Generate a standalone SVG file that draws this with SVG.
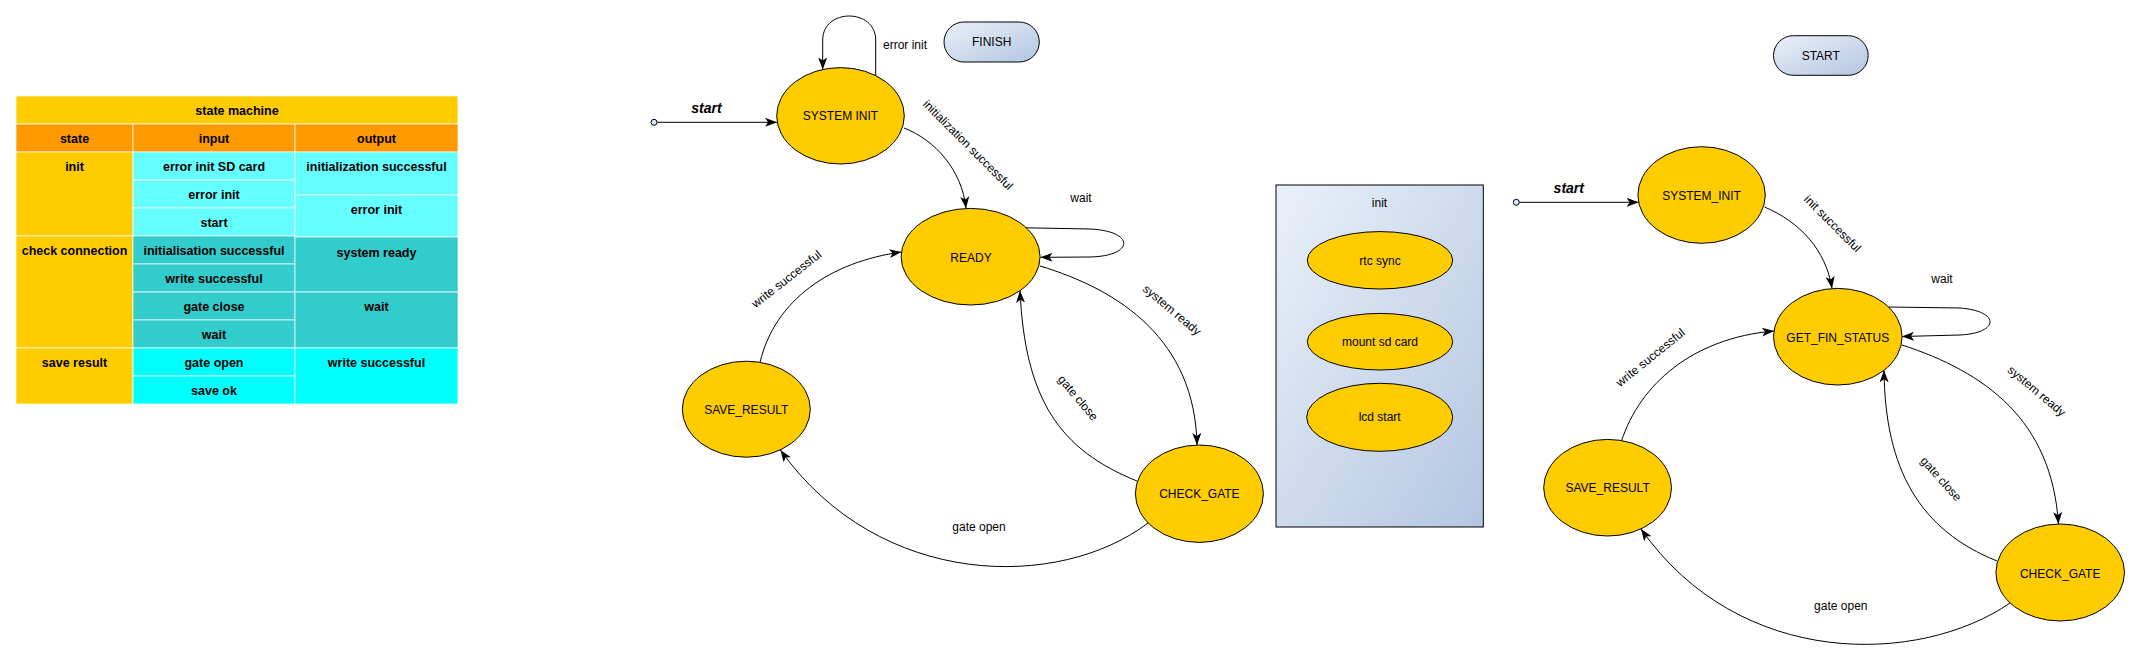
<svg xmlns="http://www.w3.org/2000/svg" width="2140" height="663" viewBox="0 0 2140 663">
<defs>
<linearGradient id="blueGrad" x1="0" y1="0" x2="1" y2="1">
<stop offset="0" stop-color="#eaf0f8"/>
<stop offset="1" stop-color="#b3c6e2"/>
</linearGradient>
<marker id="arr" markerUnits="userSpaceOnUse" markerWidth="13" markerHeight="10" refX="12" refY="4.5" orient="auto">
<path d="M0,0 L12,4.5 L0,9 L3,4.5 z" fill="#000"/>
</marker>
<style>
.st{fill:#FFCC00;stroke:#000;stroke-width:1}
.lbl{font-family:"Liberation Sans",Arial,sans-serif;font-size:12px;fill:#000;text-anchor:middle}
.lblc{font-family:"Liberation Sans",Arial,sans-serif;font-size:12px;fill:#000;text-anchor:middle;dominant-baseline:central}
.startlbl{font-family:"Liberation Sans",Arial,sans-serif;font-size:14px;font-weight:bold;font-style:italic;fill:#000;text-anchor:middle}
.edge{fill:none;stroke:#000;stroke-width:1;marker-end:url(#arr)}
.dot{fill:#dae8fc;stroke:#000;stroke-width:1}
.pill{fill:url(#blueGrad);stroke:#000;stroke-width:1}
.cell{stroke:#ffffff;stroke-opacity:0.7;stroke-width:1}
.tt{font-family:"Liberation Sans",Arial,sans-serif;font-size:12.5px;font-weight:bold;fill:#000;text-anchor:middle}
</style>
</defs>
<rect width="2140" height="663" fill="#ffffff"/>

<!-- Table -->
<g id="table">
<rect class="cell" x="16" y="96" width="442" height="28" fill="#FFCC00"/>
<text class="tt" x="237" y="115">state machine</text>
<rect class="cell" x="16" y="124" width="117" height="28" fill="#FF9900"/>
<rect class="cell" x="133" y="124" width="162" height="28" fill="#FF9900"/>
<rect class="cell" x="295" y="124" width="163" height="28" fill="#FF9900"/>
<text class="tt" x="74.5" y="143">state</text>
<text class="tt" x="214" y="143">input</text>
<text class="tt" x="376.5" y="143">output</text>
<!-- state column -->
<rect class="cell" x="16" y="152" width="117" height="84" fill="#FFCC00"/>
<rect class="cell" x="16" y="236" width="117" height="112" fill="#FFCC00"/>
<rect class="cell" x="16" y="348" width="117" height="56" fill="#FFCC00"/>
<text class="tt" x="74.5" y="171">init</text>
<text class="tt" x="74.5" y="255">check connection</text>
<text class="tt" x="74.5" y="367">save result</text>
<!-- input column -->
<rect class="cell" x="133" y="152" width="162" height="28" fill="#66FFFF"/>
<rect class="cell" x="133" y="180" width="162" height="28" fill="#66FFFF"/>
<rect class="cell" x="133" y="208" width="162" height="28" fill="#66FFFF"/>
<rect class="cell" x="133" y="236" width="162" height="28" fill="#33CCCC"/>
<rect class="cell" x="133" y="264" width="162" height="28" fill="#33CCCC"/>
<rect class="cell" x="133" y="292" width="162" height="28" fill="#33CCCC"/>
<rect class="cell" x="133" y="320" width="162" height="28" fill="#33CCCC"/>
<rect class="cell" x="133" y="348" width="162" height="28" fill="#00FFFF"/>
<rect class="cell" x="133" y="376" width="162" height="28" fill="#00FFFF"/>
<text class="tt" x="214" y="171">error init SD card</text>
<text class="tt" x="214" y="199">error init</text>
<text class="tt" x="214" y="227">start</text>
<text class="tt" x="214" y="255">initialisation successful</text>
<text class="tt" x="214" y="283">write successful</text>
<text class="tt" x="214" y="311">gate close</text>
<text class="tt" x="214" y="339">wait</text>
<text class="tt" x="214" y="367">gate open</text>
<text class="tt" x="214" y="395">save ok</text>
<!-- output column -->
<rect class="cell" x="295" y="152" width="163" height="43" fill="#66FFFF"/>
<rect class="cell" x="295" y="195" width="163" height="42" fill="#66FFFF"/>
<rect class="cell" x="295" y="237" width="163" height="55" fill="#33CCCC"/>
<rect class="cell" x="295" y="292" width="163" height="56" fill="#33CCCC"/>
<rect class="cell" x="295" y="348" width="163" height="56" fill="#00FFFF"/>
<text class="tt" x="376.5" y="171">initialization successful</text>
<text class="tt" x="376.5" y="214">error init</text>
<text class="tt" x="376.5" y="257">system ready</text>
<text class="tt" x="376.5" y="311">wait</text>
<text class="tt" x="376.5" y="367">write successful</text>
</g>

<!-- Left state machine connectors -->
<g id="connectors-left">
<circle class="dot" cx="654" cy="122.3" r="3"/>
<path class="edge" d="M657,122.3 L777,122.3"/>
<path class="edge" d="M875.7,75.5 L875.7,40 C875.7,8 822.7,8 822.7,40 L822.7,69.5"/>
<path class="edge" d="M904,128 C935,140 962,170 966,208.4"/>
<path class="edge" d="M1026,227.8 L1090,229 C1135,231 1135,256 1090,257 L1040.5,257.3"/>
<path class="edge" d="M1040,266 C1120,290 1195,340 1197,445"/>
<path class="edge" d="M1137,481 C1060,450 1025,400 1020,290.7"/>
<path class="edge" d="M1148,523 C1060,590 880,590 780.4,450"/>
<path class="edge" d="M760,362.3 C775,300 830,262 901.4,252"/>
</g>
<g id="labels-left">
<text class="startlbl" x="706.5" y="113">start</text>
<text class="lbl" x="905" y="49">error init</text>
<text class="lblc" transform="translate(968,145) rotate(45)">initialization successful</text>
<text class="lbl" x="1081" y="202">wait</text>
<text class="lblc" transform="translate(1172,310) rotate(40)">system ready</text>
<text class="lblc" transform="translate(1078,398) rotate(50)">gate close</text>
<text class="lbl" x="979" y="531">gate open</text>
<text class="lblc" transform="translate(786.5,279) rotate(-38)">write successful</text>
</g>

<!-- Left state machine nodes -->
<g id="system-init">
<ellipse class="st" cx="840.5" cy="115.8" rx="63.8" ry="48.2"/>
<text class="lblc" x="840.5" y="116">SYSTEM INIT</text>
</g>
<g id="finish">
<rect class="pill" x="944" y="22" width="95.3" height="40" rx="20" ry="20"/>
<text class="lblc" x="991.7" y="42">FINISH</text>
</g>
<g id="ready">
<ellipse class="st" cx="970.6" cy="256.7" rx="69.5" ry="48.3"/>
<text class="lblc" x="971" y="258">READY</text>
</g>
<g id="save-result-left">
<ellipse class="st" cx="746.3" cy="409.2" rx="64" ry="48"/>
<text class="lblc" x="746.3" y="409.5">SAVE_RESULT</text>
</g>
<g id="check-gate-left">
<ellipse class="st" cx="1199.4" cy="493.7" rx="64" ry="48.7"/>
<text class="lblc" x="1199.4" y="494">CHECK_GATE</text>
</g>

<!-- init container -->
<g id="init-box">
<rect x="1276" y="185" width="207.3" height="342" fill="url(#blueGrad)" stroke="#000" stroke-width="1"/>
<text class="lbl" x="1379.5" y="207">init</text>
</g>
<g id="rtc-sync">
<ellipse class="st" cx="1380" cy="260.3" rx="72.7" ry="28.7"/>
<text class="lblc" x="1380" y="260.5">rtc sync</text>
</g>
<g id="mount-sd-card">
<ellipse class="st" cx="1380" cy="341.7" rx="72.7" ry="28.3"/>
<text class="lblc" x="1380" y="341.5">mount sd card</text>
</g>
<g id="lcd-start">
<ellipse class="st" cx="1379.7" cy="417.3" rx="73" ry="34"/>
<text class="lblc" x="1379.7" y="417">lcd start</text>
</g>

<!-- Right state machine connectors -->
<g id="connectors-right">
<circle class="dot" cx="1516.3" cy="202.3" r="3"/>
<path class="edge" d="M1519.3,202.3 L1638.6,202.3"/>
<path class="edge" d="M1764.5,207 C1800,222 1826,250 1832,288.5"/>
<path class="edge" d="M1888.5,307 L1960,308 C2000,311 2000,333 1960,335 L1902,336.5"/>
<path class="edge" d="M1902,345 C1985,372 2052,420 2058.4,524"/>
<path class="edge" d="M1997,561 C1920,530 1885,470 1884,370.3"/>
<path class="edge" d="M2010,603 C1920,665 1740,670 1641,529"/>
<path class="edge" d="M1621.6,440.6 C1640,385 1692,338 1774,331"/>
</g>
<g id="labels-right">
<text class="startlbl" x="1568.8" y="193.3">start</text>
<text class="lblc" transform="translate(1832.6,223.7) rotate(45)">init successful</text>
<text class="lbl" x="1942" y="283">wait</text>
<text class="lblc" transform="translate(2036.7,391) rotate(40)">system ready</text>
<text class="lblc" transform="translate(1941,479) rotate(48)">gate close</text>
<text class="lbl" x="1840.8" y="610">gate open</text>
<text class="lblc" transform="translate(1650.4,357.5) rotate(-39)">write successful</text>
</g>

<!-- Right state machine nodes -->
<g id="start-node">
<rect class="pill" x="1773.5" y="35.7" width="94.7" height="39.6" rx="19.8" ry="19.8"/>
<text class="lblc" x="1820.8" y="55.5">START</text>
</g>
<g id="system-init-right">
<ellipse class="st" cx="1701.6" cy="195" rx="63.7" ry="48.3"/>
<text class="lblc" x="1701.6" y="195.5">SYSTEM_INIT</text>
</g>
<g id="get-fin-status">
<ellipse class="st" cx="1837.8" cy="336.7" rx="64.3" ry="48.3"/>
<text class="lblc" x="1837.8" y="337.5">GET_FIN_STATUS</text>
</g>
<g id="save-result-right">
<ellipse class="st" cx="1607.6" cy="487.7" rx="63.9" ry="48.3"/>
<text class="lblc" x="1607.6" y="488">SAVE_RESULT</text>
</g>
<g id="check-gate-right">
<ellipse class="st" cx="2060.2" cy="572.5" rx="64.3" ry="48.5"/>
<text class="lblc" x="2060.2" y="573.5">CHECK_GATE</text>
</g>
</svg>
